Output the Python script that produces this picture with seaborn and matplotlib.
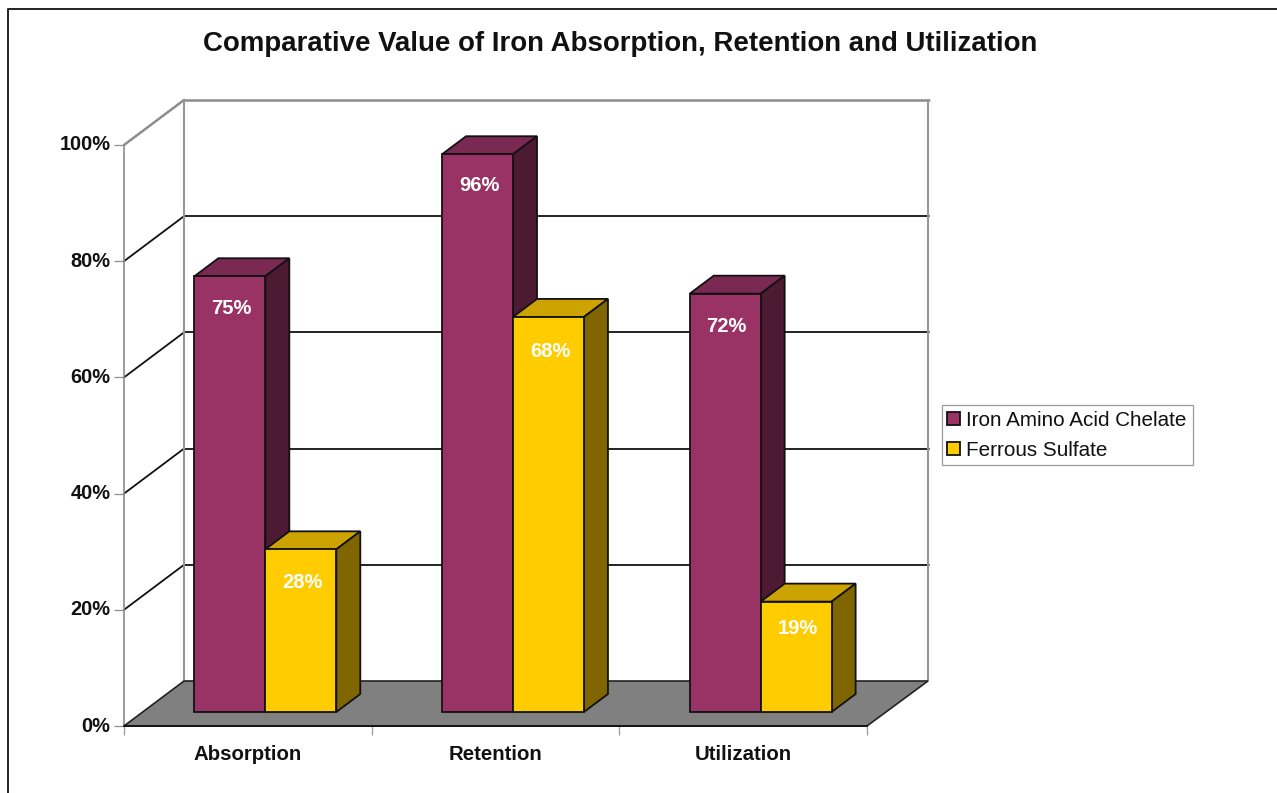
import numpy as np
import pandas as pd
import matplotlib.pyplot as plt
import seaborn as sns
from matplotlib.lines import Line2D
from matplotlib.patches import Polygon
from matplotlib.transforms import Affine2D, IdentityTransform

# Values
categories = ['Absorption', 'Retention', 'Utilization']
iron_chelate = [75, 96, 72]
ferrous_sulfate = [28, 68, 19]
series_names = ['Iron Amino Acid Chelate', 'Ferrous Sulfate']
y_ticks = [0, 20, 40, 60, 80, 100]

# how far each value label sits below its bar top, in pixels
label_drop = [[32, 31, 33], [33, 35, 27]]

# front face, top face, side face
purple = ['#993366', '#7A2952', '#4D1A33']
yellow = ['#FFCC00', '#CCA300', '#806600']

W, H = 1277, 793
sns.set_theme(style='white')
plt.rcParams['font.family'] = ['Liberation Sans', 'DejaVu Sans']

df = pd.DataFrame({
    'category': categories * 2,
    'series': [series_names[0]] * 3 + [series_names[1]] * 3,
    'value': iron_chelate + ferrous_sulfate,
})

fig = plt.figure(figsize=(W / 100, H / 100), dpi=100, facecolor='white')
ax = fig.add_axes([124 / W, 1 - 726 / H, 743 / W, 581 / H])
sns.barplot(data=df, x='category', y='value', hue='series', ax=ax,
            palette=[purple[0], yellow[0]], saturation=1, width=0.573, gap=0,
            edgecolor='#111111', linewidth=1.3, zorder=5)
ax.set_xlim(-0.5, 2.5)
ax.set_ylim(0, 100)
ax.patch.set_alpha(0)
ax.set_xlabel('')
ax.set_ylabel('')

# depth of the box and of one bar, in pixels
BOX_DX, BOX_DY = 60, 45
BAR_DX, BAR_DY = 24, 18
SHIFT_DX, SHIFT_DY = 17.5, 14


def disp(x, y, dx=0, dy=0):
    px, py = ax.transData.transform((x, y))
    return px + dx, py + dy


def add_line(p0, p1, color, lw=1.3, z=1):
    ax.add_line(Line2D([p0[0], p1[0]], [p0[1], p1[1]], color=color, lw=lw, zorder=z,
                       transform=IdentityTransform(), clip_on=False))


def add_poly(points, color, z, edge='#111111', lw=1.3):
    ax.add_patch(Polygon(points, closed=True, facecolor=color, edgecolor=edge, lw=lw, zorder=z,
                         transform=IdentityTransform(), clip_on=False, joinstyle='miter'))


# Walls and gridlines
for v in y_ticks[1:]:
    col = '#8C8C8C' if v == 100 else '#111111'
    w = 1.8 if v == 100 else 1.3
    add_line(disp(-0.5, v), disp(-0.5, v, BOX_DX, BOX_DY), col, w)
    add_line(disp(-0.5, v, BOX_DX, BOX_DY), disp(2.5, v, BOX_DX + 2, BOX_DY), col, w)
add_line(disp(-0.5, 0, BOX_DX, BOX_DY), disp(-0.5, 100, BOX_DX, BOX_DY), '#969696', 1.5, 2)
add_line(disp(2.5, 0, BOX_DX + 1, BOX_DY), disp(2.5, 100, BOX_DX + 1, BOX_DY), '#969696', 1.5, 2)

# Floor
add_poly([disp(-0.5, 0), disp(2.5, 0), disp(2.5, 0, BOX_DX + 1, BOX_DY), disp(-0.5, 0, BOX_DX, BOX_DY)],
         '#808080', 3, edge='#222222', lw=1.2)

# Move the bars into the box and give them a top and a side
shift = ax.transData + Affine2D().translate(SHIFT_DX, SHIFT_DY)
for i, (container, cols) in enumerate(zip(ax.containers, [purple, yellow])):
    for j, bar in enumerate(container):
        bar.set_transform(shift)
        bar.set_zorder(5 + i * 2)
        bar.set_clip_on(False)
        x0, x1 = bar.get_x(), bar.get_x() + bar.get_width()
        top = bar.get_height()
        dx0, dy0 = SHIFT_DX, SHIFT_DY
        dx1, dy1 = SHIFT_DX + BAR_DX, SHIFT_DY + BAR_DY
        add_poly([disp(x0, top, dx0, dy0), disp(x1, top, dx0, dy0),
                  disp(x1, top, dx1, dy1), disp(x0, top, dx1, dy1)], cols[1], 4 + i * 2)
        add_poly([disp(x1, 0, dx0, dy0), disp(x1, top, dx0, dy0),
                  disp(x1, top, dx1, dy1), disp(x1, 0, dx1, dy1)], cols[2], 4 + i * 2)
        ax.text((x0 + x1) / 2, top, f'{top:.0f}%', color='white', fontsize=14.5, fontweight='bold',
                ha='center', va='center', zorder=12,
                transform=ax.transData + Affine2D().translate(SHIFT_DX + 1.5, SHIFT_DY - label_drop[i][j]))

# Axes styling
sns.despine(ax=ax, top=True, right=True)
ax.spines['left'].set_color('#8C8C8C')
ax.spines['left'].set_linewidth(1.2)
ax.spines['bottom'].set_color('#111111')
ax.spines['bottom'].set_linewidth(1.3)
ax.spines['bottom'].set_zorder(4)
ax.set_yticks(y_ticks)
ax.set_yticklabels([f'{v}%' for v in y_ticks], fontsize=14.4, fontweight='bold', color='#111111')
ax.set_xticks([-0.5, 0.5, 1.5, 2.5], minor=False)
ax.set_xticklabels([''] * 4)
ax.tick_params(axis='y', left=True, length=7.2, width=0.9, color='#8C8C8C', pad=2.5)
ax.tick_params(axis='x', bottom=True, length=6.5, width=0.9, color='#999999')
for label in ax.get_yticklabels():
    label.set_transform(label.get_transform() + Affine2D().translate(0, 2))
for i, name in enumerate(categories):
    ax.annotate(name, xy=(i, 0), xytext=(0, -28), textcoords='offset pixels', ha='center', va='center',
                fontsize=14.7, fontweight='bold', color='#111111', annotation_clip=False)

# Legend
handles = ax.get_legend().legend_handles if ax.get_legend() else []
leg = ax.legend(handles, series_names, loc='lower left', fontsize=14.9, frameon=True, fancybox=False,
                bbox_to_anchor=(942 / W, 1 - 465 / H, 251 / W, 60 / H), bbox_transform=fig.transFigure,
                mode='expand', borderaxespad=0, borderpad=0.26, labelspacing=0.52,
                handlelength=0.63, handleheight=0.63, handletextpad=0.29, labelcolor='#111111')
leg.get_frame().set_edgecolor('#999999')
leg.get_frame().set_linewidth(0.9)
leg.get_frame().set_alpha(1)
leg.set_zorder(20)
for handle in leg.legend_handles:
    handle.set_linewidth(1.3)

# Title and outer frame
fig.text(620.5 / W, 1 - 44 / H, 'Comparative Value of Iron Absorption, Retention and Utilization',
         fontsize=19.9, fontweight='bold', color='#111111', ha='center', va='center')
fig.add_artist(Line2D([8 / W, 8 / W, 1], [0, 1 - 9 / H, 1 - 9 / H], color='#222222', lw=1.4,
                      transform=fig.transFigure))

fig.savefig('out.png', dpi=100)
